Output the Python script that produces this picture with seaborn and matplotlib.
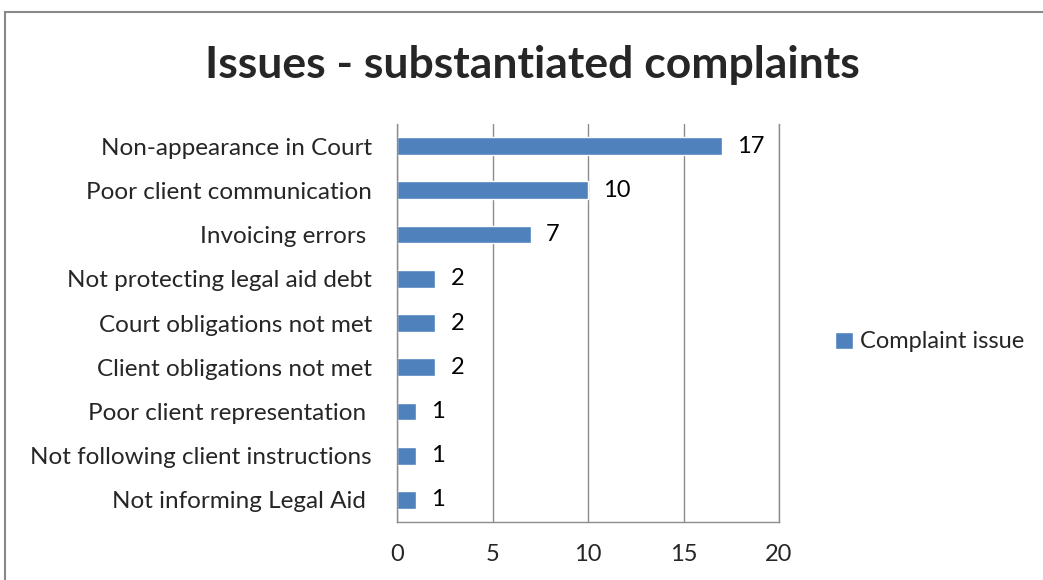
import matplotlib
matplotlib.use("Agg")
import matplotlib.pyplot as plt
import seaborn as sns
import pandas as pd
from matplotlib.patches import Rectangle

categories = [
    "Non-appearance in Court",
    "Poor client communication",
    "Invoicing errors ",
    "Not protecting legal aid debt",
    "Court obligations not met",
    "Client obligations not met",
    "Poor client representation ",
    "Not following client instructions",
    "Not informing Legal Aid ",
]
values = [17, 10, 7, 2, 2, 2, 1, 1, 1]
x_ticks = [0, 5, 10, 15, 20]
series_name = "Complaint issue"
title = "Issues - substantiated complaints"

sns.set_style("white")
plt.rcParams['font.family'] = ['Lato', 'DejaVu Sans']

df = pd.DataFrame({"issue": categories, "count": values})

fig = plt.figure(figsize=(10.43, 5.8), dpi=100)
ax = fig.add_axes([397/1043, 1-522/580, (779-397)/1043, (522-124)/580])

bar_color = "#4F81BD"
sns.barplot(data=df, x="count", y="issue", color=bar_color, width=0.4,
            saturation=1, ax=ax, label=series_name, orient="h", legend=False)
if ax.get_legend() is not None:
    ax.get_legend().remove()

ax.set_xlim(0, 20)
ax.set_xticks(x_ticks)
ax.set_xlabel("")
ax.set_ylabel("")
ax.grid(axis="x", color="#8C8C8C", linewidth=1)
ax.set_axisbelow(True)
ax.spines["top"].set_visible(False)
for s in ["left", "bottom", "right"]:
    ax.spines[s].set_color("#8C8C8C")
    ax.spines[s].set_linewidth(1)

ax.set_yticks(range(len(categories)))
ax.set_yticklabels(categories, fontsize=17.5)
ax.tick_params(axis="y", length=0, pad=18)
ax.set_yticks([i - 0.5 for i in range(len(categories) + 1)], minor=True)
ax.tick_params(axis="y", which="minor", length=6, color="#8C8C8C", width=1, direction="out")
ax.tick_params(axis="x", length=6, color="#8C8C8C", width=1, direction="out",
               labelsize=17, pad=10)
ax.set_ylim(len(categories) - 0.5, -0.5)

for i, v in enumerate(values):
    ax.text(v + 0.8, i, str(v), va="center", ha="left", fontsize=17, color="black")

handles, labels = ax.get_legend_handles_labels()
fig.legend(handles[:1], labels[:1], loc="center left", bbox_to_anchor=(814/1043, 1-342/580),
           frameon=False, fontsize=17, handlelength=0.75, handleheight=0.75,
           handletextpad=0.3)

fig.text(532/1043, 1-65/580, title, ha="center", va="center",
         fontsize=32, fontweight="bold")

fig.patches.append(Rectangle((5/1043, -0.1), 1.2, 1.1 - 12/580,
                             transform=fig.transFigure, fill=False,
                             edgecolor="#888888", linewidth=1.5))

fig.savefig("out.png", dpi=100)
